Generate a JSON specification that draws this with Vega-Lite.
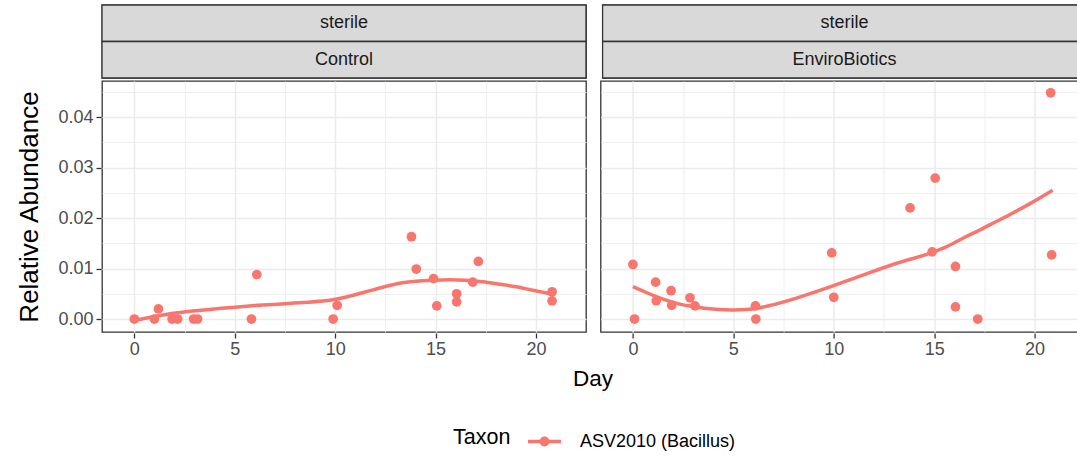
{
  "$schema": "https://vega.github.io/schema/vega-lite/v6.json",
  "background": "white",
  "padding": {"left": 16, "top": 3, "right": 5, "bottom": 5},
  "config": {
    "font": "Liberation Sans",
    "view": {"stroke": "#333333", "strokeWidth": 1.3},
    "axis": {"domain": false, "labelColor": "#4D4D4D", "tickColor": "#333333", "tickWidth": 1.3, "labelFontSize": 18, "labelFont": "Liberation Sans", "gridColor": "#EBEBEB"}
  },
  "datasets": {
    "strips": [
      {"panel": "Control", "level": 1, "label": "sterile"},
      {"panel": "Control", "level": 2, "label": "Control"},
      {"panel": "EnviroBiotics", "level": 1, "label": "sterile"},
      {"panel": "EnviroBiotics", "level": 2, "label": "EnviroBiotics"}
    ],
    "main": [
      {"panel": "Control", "kind": "obs", "taxon": "ASV2010 (Bacillus)", "day": 0.0, "value": 0.0},
      {"panel": "Control", "kind": "obs", "taxon": "ASV2010 (Bacillus)", "day": 1.0, "value": 0.0},
      {"panel": "Control", "kind": "obs", "taxon": "ASV2010 (Bacillus)", "day": 1.2, "value": 0.002},
      {"panel": "Control", "kind": "obs", "taxon": "ASV2010 (Bacillus)", "day": 1.88, "value": 0.0},
      {"panel": "Control", "kind": "obs", "taxon": "ASV2010 (Bacillus)", "day": 2.16, "value": 0.0},
      {"panel": "Control", "kind": "obs", "taxon": "ASV2010 (Bacillus)", "day": 2.95, "value": 0.0},
      {"panel": "Control", "kind": "obs", "taxon": "ASV2010 (Bacillus)", "day": 3.15, "value": 0.0},
      {"panel": "Control", "kind": "obs", "taxon": "ASV2010 (Bacillus)", "day": 5.83, "value": 0.0},
      {"panel": "Control", "kind": "obs", "taxon": "ASV2010 (Bacillus)", "day": 6.1, "value": 0.0088},
      {"panel": "Control", "kind": "obs", "taxon": "ASV2010 (Bacillus)", "day": 9.9, "value": 0.0},
      {"panel": "Control", "kind": "obs", "taxon": "ASV2010 (Bacillus)", "day": 10.1, "value": 0.0027},
      {"panel": "Control", "kind": "obs", "taxon": "ASV2010 (Bacillus)", "day": 13.8, "value": 0.0163},
      {"panel": "Control", "kind": "obs", "taxon": "ASV2010 (Bacillus)", "day": 14.04, "value": 0.0099},
      {"panel": "Control", "kind": "obs", "taxon": "ASV2010 (Bacillus)", "day": 14.9, "value": 0.008},
      {"panel": "Control", "kind": "obs", "taxon": "ASV2010 (Bacillus)", "day": 15.06, "value": 0.0026},
      {"panel": "Control", "kind": "obs", "taxon": "ASV2010 (Bacillus)", "day": 16.05, "value": 0.005},
      {"panel": "Control", "kind": "obs", "taxon": "ASV2010 (Bacillus)", "day": 16.05, "value": 0.0034},
      {"panel": "Control", "kind": "obs", "taxon": "ASV2010 (Bacillus)", "day": 16.85, "value": 0.0073},
      {"panel": "Control", "kind": "obs", "taxon": "ASV2010 (Bacillus)", "day": 17.13, "value": 0.0114},
      {"panel": "Control", "kind": "obs", "taxon": "ASV2010 (Bacillus)", "day": 20.8, "value": 0.0054},
      {"panel": "Control", "kind": "obs", "taxon": "ASV2010 (Bacillus)", "day": 20.8, "value": 0.0036},
      {"panel": "EnviroBiotics", "kind": "obs", "taxon": "ASV2010 (Bacillus)", "day": 0.0, "value": 0.0108},
      {"panel": "EnviroBiotics", "kind": "obs", "taxon": "ASV2010 (Bacillus)", "day": 0.08, "value": 0.0},
      {"panel": "EnviroBiotics", "kind": "obs", "taxon": "ASV2010 (Bacillus)", "day": 1.13, "value": 0.0073},
      {"panel": "EnviroBiotics", "kind": "obs", "taxon": "ASV2010 (Bacillus)", "day": 1.16, "value": 0.0036},
      {"panel": "EnviroBiotics", "kind": "obs", "taxon": "ASV2010 (Bacillus)", "day": 1.9, "value": 0.0056},
      {"panel": "EnviroBiotics", "kind": "obs", "taxon": "ASV2010 (Bacillus)", "day": 1.93, "value": 0.0027},
      {"panel": "EnviroBiotics", "kind": "obs", "taxon": "ASV2010 (Bacillus)", "day": 2.84, "value": 0.0042},
      {"panel": "EnviroBiotics", "kind": "obs", "taxon": "ASV2010 (Bacillus)", "day": 3.09, "value": 0.0026},
      {"panel": "EnviroBiotics", "kind": "obs", "taxon": "ASV2010 (Bacillus)", "day": 6.1, "value": 0.0026},
      {"panel": "EnviroBiotics", "kind": "obs", "taxon": "ASV2010 (Bacillus)", "day": 6.12, "value": 0.0},
      {"panel": "EnviroBiotics", "kind": "obs", "taxon": "ASV2010 (Bacillus)", "day": 9.9, "value": 0.0131},
      {"panel": "EnviroBiotics", "kind": "obs", "taxon": "ASV2010 (Bacillus)", "day": 10.0, "value": 0.0043},
      {"panel": "EnviroBiotics", "kind": "obs", "taxon": "ASV2010 (Bacillus)", "day": 13.8, "value": 0.022},
      {"panel": "EnviroBiotics", "kind": "obs", "taxon": "ASV2010 (Bacillus)", "day": 14.9, "value": 0.0133},
      {"panel": "EnviroBiotics", "kind": "obs", "taxon": "ASV2010 (Bacillus)", "day": 15.05, "value": 0.0279},
      {"panel": "EnviroBiotics", "kind": "obs", "taxon": "ASV2010 (Bacillus)", "day": 16.06, "value": 0.0104},
      {"panel": "EnviroBiotics", "kind": "obs", "taxon": "ASV2010 (Bacillus)", "day": 16.06, "value": 0.0024},
      {"panel": "EnviroBiotics", "kind": "obs", "taxon": "ASV2010 (Bacillus)", "day": 17.17, "value": 0.0},
      {"panel": "EnviroBiotics", "kind": "obs", "taxon": "ASV2010 (Bacillus)", "day": 20.8, "value": 0.0448},
      {"panel": "EnviroBiotics", "kind": "obs", "taxon": "ASV2010 (Bacillus)", "day": 20.85, "value": 0.0127},
      {"panel": "Control", "kind": "fit", "taxon": "ASV2010 (Bacillus)", "day": 0.0, "value": -0.0003},
      {"panel": "Control", "kind": "fit", "taxon": "ASV2010 (Bacillus)", "day": 1.58, "value": 0.0009},
      {"panel": "Control", "kind": "fit", "taxon": "ASV2010 (Bacillus)", "day": 3.2, "value": 0.0017},
      {"panel": "Control", "kind": "fit", "taxon": "ASV2010 (Bacillus)", "day": 5.73, "value": 0.0026},
      {"panel": "Control", "kind": "fit", "taxon": "ASV2010 (Bacillus)", "day": 8.2, "value": 0.0032},
      {"panel": "Control", "kind": "fit", "taxon": "ASV2010 (Bacillus)", "day": 9.88, "value": 0.0038},
      {"panel": "Control", "kind": "fit", "taxon": "ASV2010 (Bacillus)", "day": 10.9, "value": 0.0047},
      {"panel": "Control", "kind": "fit", "taxon": "ASV2010 (Bacillus)", "day": 11.54, "value": 0.0054},
      {"panel": "Control", "kind": "fit", "taxon": "ASV2010 (Bacillus)", "day": 12.37, "value": 0.0063},
      {"panel": "Control", "kind": "fit", "taxon": "ASV2010 (Bacillus)", "day": 13.2, "value": 0.0071},
      {"panel": "Control", "kind": "fit", "taxon": "ASV2010 (Bacillus)", "day": 14.03, "value": 0.0075},
      {"panel": "Control", "kind": "fit", "taxon": "ASV2010 (Bacillus)", "day": 14.86, "value": 0.0077},
      {"panel": "Control", "kind": "fit", "taxon": "ASV2010 (Bacillus)", "day": 15.7, "value": 0.0078},
      {"panel": "Control", "kind": "fit", "taxon": "ASV2010 (Bacillus)", "day": 16.5, "value": 0.0077},
      {"panel": "Control", "kind": "fit", "taxon": "ASV2010 (Bacillus)", "day": 17.35, "value": 0.0074},
      {"panel": "Control", "kind": "fit", "taxon": "ASV2010 (Bacillus)", "day": 18.2, "value": 0.0069},
      {"panel": "Control", "kind": "fit", "taxon": "ASV2010 (Bacillus)", "day": 19.0, "value": 0.0064},
      {"panel": "Control", "kind": "fit", "taxon": "ASV2010 (Bacillus)", "day": 19.84, "value": 0.0057},
      {"panel": "Control", "kind": "fit", "taxon": "ASV2010 (Bacillus)", "day": 20.85, "value": 0.0049},
      {"panel": "EnviroBiotics", "kind": "fit", "taxon": "ASV2010 (Bacillus)", "day": 0.0, "value": 0.0064},
      {"panel": "EnviroBiotics", "kind": "fit", "taxon": "ASV2010 (Bacillus)", "day": 0.63, "value": 0.0053},
      {"panel": "EnviroBiotics", "kind": "fit", "taxon": "ASV2010 (Bacillus)", "day": 1.46, "value": 0.004},
      {"panel": "EnviroBiotics", "kind": "fit", "taxon": "ASV2010 (Bacillus)", "day": 2.29, "value": 0.003},
      {"panel": "EnviroBiotics", "kind": "fit", "taxon": "ASV2010 (Bacillus)", "day": 3.13, "value": 0.0024},
      {"panel": "EnviroBiotics", "kind": "fit", "taxon": "ASV2010 (Bacillus)", "day": 3.96, "value": 0.002},
      {"panel": "EnviroBiotics", "kind": "fit", "taxon": "ASV2010 (Bacillus)", "day": 4.95, "value": 0.0018},
      {"panel": "EnviroBiotics", "kind": "fit", "taxon": "ASV2010 (Bacillus)", "day": 5.95, "value": 0.002},
      {"panel": "EnviroBiotics", "kind": "fit", "taxon": "ASV2010 (Bacillus)", "day": 6.95, "value": 0.0028},
      {"panel": "EnviroBiotics", "kind": "fit", "taxon": "ASV2010 (Bacillus)", "day": 8.11, "value": 0.0041},
      {"panel": "EnviroBiotics", "kind": "fit", "taxon": "ASV2010 (Bacillus)", "day": 9.78, "value": 0.0063},
      {"panel": "EnviroBiotics", "kind": "fit", "taxon": "ASV2010 (Bacillus)", "day": 11.44, "value": 0.0087},
      {"panel": "EnviroBiotics", "kind": "fit", "taxon": "ASV2010 (Bacillus)", "day": 13.1, "value": 0.011},
      {"panel": "EnviroBiotics", "kind": "fit", "taxon": "ASV2010 (Bacillus)", "day": 14.76, "value": 0.013},
      {"panel": "EnviroBiotics", "kind": "fit", "taxon": "ASV2010 (Bacillus)", "day": 15.6, "value": 0.0143},
      {"panel": "EnviroBiotics", "kind": "fit", "taxon": "ASV2010 (Bacillus)", "day": 16.43, "value": 0.016},
      {"panel": "EnviroBiotics", "kind": "fit", "taxon": "ASV2010 (Bacillus)", "day": 17.26, "value": 0.0176},
      {"panel": "EnviroBiotics", "kind": "fit", "taxon": "ASV2010 (Bacillus)", "day": 18.09, "value": 0.0193},
      {"panel": "EnviroBiotics", "kind": "fit", "taxon": "ASV2010 (Bacillus)", "day": 18.92, "value": 0.021},
      {"panel": "EnviroBiotics", "kind": "fit", "taxon": "ASV2010 (Bacillus)", "day": 19.75, "value": 0.0228},
      {"panel": "EnviroBiotics", "kind": "fit", "taxon": "ASV2010 (Bacillus)", "day": 20.9, "value": 0.0255}
    ]
  },
  "spacing": 0,
  "vconcat": [
    {
      "data": {"name": "strips"},
      "facet": {"column": {"field": "panel", "type": "nominal", "title": null, "header": {"labels": false, "labelPadding": 0, "titlePadding": 0}}},
      "spacing": {"column": 12.6},
      "spec": {
        "width": 484,
        "height": 73,
        "layer": [
          {
            "mark": {"type": "rect", "fill": "#D9D9D9", "stroke": "#333333", "strokeWidth": 1.3},
            "encoding": {"y": {"field": "level", "type": "ordinal", "axis": null, "scale": {"paddingInner": 0, "paddingOuter": 0}}}
          },
          {
            "mark": {"type": "text", "fontSize": 18, "color": "#1A1A1A", "font": "Liberation Sans"},
            "encoding": {"y": {"field": "level", "type": "ordinal", "axis": null}, "text": {"field": "label"}}
          }
        ]
      }
    },
    {
      "data": {"name": "main"},
      "facet": {"column": {"field": "panel", "type": "nominal", "title": "Day", "header": {"labels": false, "labelPadding": 0, "titleOrient": "bottom", "titleFontSize": 22.5, "titleFontWeight": "normal", "titleColor": "black", "titleFont": "Liberation Sans", "titlePadding": 0}}},
      "spacing": {"column": 12.6},
      "spec": {
        "width": 484,
        "height": 251,
        "encoding": {
          "x": {"field": "day", "type": "quantitative", "title": null,
                "scale": {"domain": [-1.61, 22.49], "nice": false, "zero": false},
                "axis": {"values": [0, 2.5, 5, 7.5, 10, 12.5, 15, 17.5, 20],
                         "labelExpr": "datum.value % 5 === 0 ? datum.label : ''",
                         "tickSize": {"condition": {"test": "datum.value % 5 !== 0", "value": 0}, "value": 5},
                         "gridWidth": {"condition": {"test": "datum.value % 5 !== 0", "value": 0.8}, "value": 1.5},
                         "labelPadding": 2}},
          "y": {"field": "value", "type": "quantitative", "title": "Relative Abundance",
                "scale": {"domain": [-0.00257, 0.04713], "nice": false, "zero": false},
                "axis": {"values": [0, 0.005, 0.01, 0.015, 0.02, 0.025, 0.03, 0.035, 0.04, 0.045],
                         "format": ".2f",
                         "labelExpr": "abs(datum.value * 100 - round(datum.value * 100)) < 0.001 ? datum.label : ''",
                         "tickSize": {"condition": {"test": "abs(datum.value * 100 - round(datum.value * 100)) > 0.001", "value": 0}, "value": 5},
                         "gridWidth": {"condition": {"test": "abs(datum.value * 100 - round(datum.value * 100)) > 0.001", "value": 0.8}, "value": 1.5},
                         "labelPadding": 3,
                         "titleFontSize": 26, "titleFontWeight": "normal", "titleColor": "black", "titlePadding": 15}},
          "color": {"field": "taxon", "type": "nominal", "scale": {"range": ["#F8766D"]},
                    "legend": {"title": "Taxon", "orient": "none", "legendX": 351, "legendY": 420, "direction": "horizontal", "titleOrient": "left",
                               "titleFontSize": 21.5, "titleFontWeight": "normal", "titleColor": "black", "titlePadding": 17,
                               "labelFontSize": 18, "labelColor": "black", "labelOffset": 19,
                               "symbolType": "M-1,-0.1L1,-0.1L1,0.1L-1,0.1Z M0.3,0A0.3,0.3,0,1,1,-0.3,0A0.3,0.3,0,1,1,0.3,0Z",
                               "symbolSize": 1089, "symbolFillColor": "#F8766D", "symbolStrokeWidth": 0}}
        },
        "layer": [
          {"transform": [{"filter": "datum.kind === 'obs'"}],
           "mark": {"type": "point", "filled": true, "size": 95, "opacity": 1}},
          {"transform": [{"filter": "datum.kind === 'fit'"}],
           "mark": {"type": "line", "strokeWidth": 3.5, "interpolate": "monotone"}}
        ]
      }
    }
  ]
}
